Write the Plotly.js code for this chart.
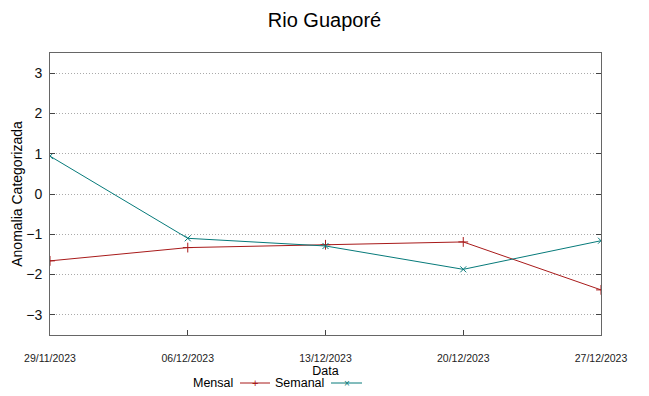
<!DOCTYPE html>
<html>
<head>
<meta charset="utf-8">
<script src="https://cdn.plot.ly/plotly-3.0.1.min.js"></script>
<style>body{margin:0;padding:0;background:#fff}#chart{width:649px;height:396px}</style>
</head>
<body>
<div id="chart"></div>
<script>
const dates = ['2023-11-29', '2023-12-06', '2023-12-13', '2023-12-20', '2023-12-27'];
const tickLabels = ['29/11/2023', '06/12/2023', '13/12/2023', '20/12/2023', '27/12/2023'];
const mensal = [-1.66, -1.33, -1.26, -1.19, -2.38];
const semanal = [0.94, -1.10, -1.29, -1.87, -1.16];
const yTicks = [-3, -2, -1, 0, 1, 2, 3];

const red = '#a81a1a';
const teal = '#067a7a';
const FONT = 'Liberation Sans, Arial, sans-serif';

const traces = [
  {x: dates, y: mensal, type: 'scatter', mode: 'lines+markers', name: 'Mensal',
   line: {color: red, width: 1},
   marker: {symbol: 'cross-thin', size: 7, line: {color: red, width: 1}}},
  {x: dates, y: semanal, type: 'scatter', mode: 'lines+markers', name: 'Semanal',
   line: {color: teal, width: 1},
   marker: {symbol: 'x-thin', size: 6, line: {color: teal, width: 1}}}
];

const LY = -(383-335)/282;

const layout = {
  width: 649, height: 396,
  margin: {l: 50, r: 48, t: 53, b: 61},
  paper_bgcolor: '#fff', plot_bgcolor: '#fff',
  font: {family: FONT, color: '#000'},
  showlegend: false,
  title: {text: 'Rio Guaporé', font: {size: 20, family: FONT, color: '#000'},
          x: 0.5, xanchor: 'center', y: 1 - 20/396, yanchor: 'middle', yref: 'container'},
  xaxis: {
    type: 'date', range: [dates[0], dates[dates.length - 1]],
    tickvals: dates, ticktext: tickLabels,
    tickfont: {size: 10.5, family: FONT, color: '#222'},
    ticks: 'inside', ticklen: 5, tickcolor: '#444',
    showgrid: false, zeroline: false,
    showline: true, linecolor: '#666', linewidth: 1, mirror: true,
    ticklabelstandoff: 13,
    title: {text: 'Data', font: {size: 12.5, family: FONT, color: '#000'}, standoff: 2}
  },
  yaxis: {
    range: [-3.5, 3.5], tickvals: yTicks,
    tickfont: {size: 14, family: FONT, color: '#111'},
    ticks: 'inside', ticklen: 5, tickcolor: '#444',
    showgrid: true, gridcolor: '#aaa', griddash: '1px,2px', gridwidth: 1,
    zeroline: false,
    showline: true, linecolor: '#666', linewidth: 1, mirror: 'ticks',
    ticklabelstandoff: 4,
    title: {text: 'Anomalia Categorizada', font: {size: 14, family: FONT, color: '#000'}, standoff: 0}
  },
  shapes: [
    {type: 'line', xref: 'paper', yref: 'paper', x0: (240-50)/551, x1: (270-50)/551,
     y0: LY, y1: LY, line: {color: red, width: 1}},
    {type: 'line', xref: 'paper', yref: 'paper', x0: (331-50)/551, x1: (362-50)/551,
     y0: LY, y1: LY, line: {color: teal, width: 1}}
  ],
  annotations: [
    {text: 'Mensal', xref: 'paper', yref: 'paper', x: (235-50)/551, y: LY,
     xanchor: 'right', yanchor: 'middle', showarrow: false, font: {size: 12.5, family: FONT, color: '#000'}},
    {text: 'Semanal', xref: 'paper', yref: 'paper', x: (326-50)/551, y: LY,
     xanchor: 'right', yanchor: 'middle', showarrow: false, font: {size: 12.5, family: FONT, color: '#000'}},
    {text: '+', xref: 'paper', yref: 'paper', x: (255-50)/551, y: LY,
     xanchor: 'center', yanchor: 'middle', showarrow: false, font: {size: 11, family: FONT, color: red}},
    {text: '×', xref: 'paper', yref: 'paper', x: (347-50)/551, y: LY,
     xanchor: 'center', yanchor: 'middle', showarrow: false, font: {size: 10, family: FONT, color: teal}}
  ]
};

Plotly.newPlot('chart', traces, layout, {displayModeBar: false, staticPlot: true});
</script>
</body>
</html>
